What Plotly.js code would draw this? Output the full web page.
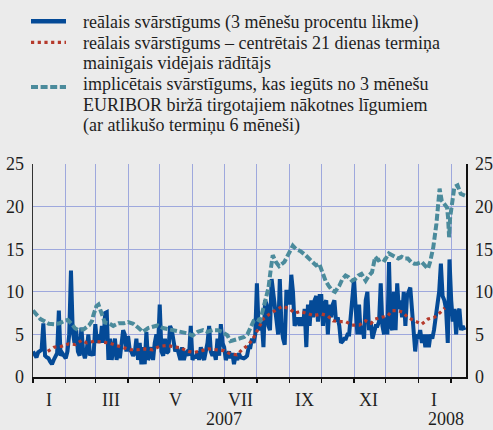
<!DOCTYPE html>
<html>
<head>
<meta charset="utf-8">
<script src="https://cdn.plot.ly/plotly-3.0.1.min.js"></script>
<style>html,body{margin:0;padding:0;background:#ebebeb;}#chart{width:493px;height:430px;}</style>
</head>
<body>
<div id="chart"></div>
<script>
// ---------- DATA ----------
// Month starts of the sampled periods (last entry = end of data)
const periodStarts = ['2007-01-01','2007-02-01','2007-03-01','2007-04-01','2007-05-01','2007-06-01',
  '2007-07-01','2007-08-01','2007-09-01','2007-10-01','2007-11-01','2007-12-01','2008-01-01','2008-02-01','2008-02-15'];

// Realised volatility (3-month interest rate), readings spread evenly within each month
const blue_2007_01 = [3.0,2.5,2.3,2.9,3.0,3.2,6.3,2.5,2.3,2.2,1.8,1.5,2.0,2.5,2.8,7.8,2.5,2.8,2.5];
const blue_2007_02 = [2.2,3.0,5.0,12.5,5.5,4.0,5.5,3.0,2.5,5.8,3.0,2.2,3.0,5.0,2.5,3.0,2.5];
const blue_2007_03 = [6.2,4.0,5.0,4.0,6.0,4.0,7.5,7.6,2.0,4.5,2.0,3.5,4.5,2.0,3.5,2.2,4.0,5.5,5.0,3.0];
const blue_2007_04 = [4.8,3.2,3.0,2.5,2.8,4.5,2.0,4.0,1.5,3.5,1.5,5.3,2.0,2.5,3.5,2.0,4.0,5.0,3.5];
const blue_2007_05 = [8.5,3.0,2.5,4.5,2.8,3.0,6.0,5.5,4.5,3.0,3.5,2.5,2.0,3.5,2.0,2.8,3.0,2.5,6.0];
const blue_2007_06 = [2.0,2.5,2.2,3.0,2.0,3.5,2.5,2.0,3.0,4.0,6.0,3.0,2.5,3.0,2.0,4.5,2.5,6.2,4.0];
const blue_2007_07 = [3.5,2.0,2.5,3.0,2.2,2.8,1.5,2.5,2.0,2.8,2.3,2.2,2.2,2.3,2.5,3.5,3.5,4.5,4.0,5.0];
const blue_2007_08 = [11.0,6.0,5.5,6.5,3.5,9.0,8.5,6.0,5.5,11.5,10.0,8.5,6.5,5.0,11.5,6.0,4.5,3.8,10.0,10.0];
const blue_2007_09 = [8.5,12.0,10.0,6.0,6.5,7.0,6.0,7.0,6.0,8.0,3.5,8.5,6.0,9.0,7.0,9.0,9.5,6.5,9.5];
const blue_2007_10 = [9.5,6.0,8.5,9.0,5.0,8.5,7.0,8.5,9.0,6.5,7.0,6.0,4.0,4.2,4.5,4.5,5.0,5.0,7.5,10.5];
const blue_2007_11 = [11.5,8.0,5.0,8.5,5.0,6.0,4.5,9.0,10.0,5.5,6.5,4.5,5.5,6.0,6.0,6.5,11.0,6.0,5.0];
const blue_2007_12 = [7.0,5.0,13.5,6.0,5.5,10.0,5.5,11.0,8.0,9.0,7.0,10.0,6.0,9.5,10.0,10.5,8.0,4.5,3.0,5.0];
const blue_2008_01 = [4.5,5.5,4.0,5.0,3.5,5.0,3.5,5.0,4.5,5.5,7.0,8.5,10.0,13.3,9.5,9.0,8.0,4.0,13.8];
const blue_2008_02 = [9.0,6.5,8.0,5.0,7.5,8.0,5.5,6.0,5.5];

// 21-day centred moving average of realised volatility
const redDates = ['2007-01-15','2007-01-21','2007-01-28','2007-02-04','2007-02-10','2007-02-16','2007-02-21','2007-02-28',
  '2007-03-07','2007-03-14','2007-03-21','2007-03-28','2007-04-03','2007-04-10','2007-04-17','2007-04-24',
  '2007-05-01','2007-05-08','2007-05-15','2007-05-21','2007-05-28','2007-06-03','2007-06-10','2007-06-16','2007-06-23',
  '2007-07-01','2007-07-07','2007-07-13','2007-07-18','2007-07-24','2007-07-28','2007-08-01','2007-08-04','2007-08-07',
  '2007-08-13','2007-08-19','2007-08-25','2007-09-01','2007-09-06','2007-09-11','2007-09-17','2007-09-24',
  '2007-10-01','2007-10-07','2007-10-12','2007-10-17','2007-10-24','2007-10-30','2007-11-06','2007-11-12','2007-11-17',
  '2007-11-21','2007-11-27','2007-12-03','2007-12-07','2007-12-12','2007-12-17','2007-12-22','2007-12-28',
  '2008-01-04','2008-01-10','2008-01-16','2008-01-21','2008-01-26'];
const redValues = [3.0,3.5,3.6,3.9,3.8,4.3,4.0,4.2,
  4.1,4.0,3.7,3.4,3.2,3.2,3.3,3.2,
  3.6,3.7,3.5,3.4,3.0,2.9,3.1,3.3,3.2,
  3.1,2.7,2.6,3.2,3.8,4.4,5.3,6.1,6.8,
  7.4,7.9,8.3,8.0,7.5,7.7,7.5,7.2,
  7.4,7.2,6.6,6.5,6.5,6.1,6.1,6.6,6.3,
  6.8,7.0,7.2,7.8,7.8,7.6,7.0,6.6,
  6.2,6.8,7.0,7.5,8.1];

// Implied volatility from 3-month EURIBOR futures (6 months to maturity)
const tealDates = ['2007-01-01','2007-01-04','2007-01-08','2007-01-11','2007-01-16','2007-01-21','2007-01-26','2007-01-31',
  '2007-02-03','2007-02-06','2007-02-10','2007-02-13','2007-02-18','2007-02-23','2007-02-26','2007-02-27',
  '2007-03-02','2007-03-04','2007-03-06','2007-03-07','2007-03-10','2007-03-14','2007-03-18','2007-03-23','2007-03-28',
  '2007-04-01','2007-04-06','2007-04-11','2007-04-15','2007-04-20','2007-04-25','2007-04-29',
  '2007-05-04','2007-05-09','2007-05-13','2007-05-18','2007-05-23','2007-05-28',
  '2007-06-01','2007-06-06','2007-06-11','2007-06-15','2007-06-20','2007-06-25','2007-06-29',
  '2007-07-04','2007-07-07','2007-07-10','2007-07-15','2007-07-20','2007-07-23','2007-07-26','2007-07-29',
  '2007-08-01','2007-08-04','2007-08-07','2007-08-09','2007-08-11','2007-08-12','2007-08-14','2007-08-16',
  '2007-08-19','2007-08-22','2007-08-27','2007-08-31',
  '2007-09-04','2007-09-07','2007-09-11','2007-09-16','2007-09-19','2007-09-23','2007-09-26','2007-09-29',
  '2007-10-02','2007-10-05','2007-10-08','2007-10-11','2007-10-14','2007-10-18','2007-10-21','2007-10-24','2007-10-27','2007-10-30',
  '2007-11-02','2007-11-05','2007-11-08','2007-11-12','2007-11-15','2007-11-18','2007-11-21','2007-11-24','2007-11-27','2007-11-30',
  '2007-12-04','2007-12-07','2007-12-10','2007-12-13','2007-12-16','2007-12-19','2007-12-22','2007-12-25','2007-12-28','2007-12-31',
  '2008-01-04','2008-01-07','2008-01-10','2008-01-12','2008-01-15','2008-01-18','2008-01-20','2008-01-21','2008-01-23',
  '2008-01-26','2008-01-28','2008-01-29','2008-01-30','2008-01-31',
  '2008-02-02','2008-02-04','2008-02-07','2008-02-10','2008-02-14'];
const tealValues = [7.8,7.4,6.8,6.6,6.25,6.2,6.3,6.6,
  6.7,6.3,5.7,5.5,5.6,6.05,6.6,7.2,
  8.3,8.5,7.8,7.2,6.4,6.3,6.0,6.3,6.3,
  6.45,6.25,5.75,5.3,5.75,5.9,6.05,
  5.75,5.6,5.5,5.3,5.15,5.1,
  4.85,5.3,5.5,5.3,5.5,5.5,5.3,
  4.9,4.2,4.3,4.5,4.7,5.0,5.8,6.6,
  6.8,6.6,8.0,9.0,9.8,10.5,12.5,14.3,
  13.5,13.0,13.5,14.5,
  15.4,15.0,14.8,14.3,13.9,13.5,13.1,13.3,
  12.3,11.3,10.7,10.2,10.0,10.7,11.5,11.9,11.7,11.3,
  11.5,11.9,12.1,11.3,11.9,12.3,14.1,13.7,13.9,13.7,
  14.5,14.3,14.1,13.9,14.1,13.9,13.9,13.5,13.3,13.3,
  13.5,13.1,12.7,13.5,15.2,18.0,20.3,22.1,20.7,
  20.3,19.9,18.75,16.4,18.75,
  20.3,22.3,22.5,21.5,21.3];

// Axis labels
const monthLabelDates = ['2007-01-16','2007-03-16','2007-05-16','2007-07-16','2007-09-15','2007-11-15','2008-01-16'];
const monthLabels = ['I','III','V','VII','IX','XI','I'];
const yearLabels = ['2007','2008'];
const yearLabelDates = ['2007-07-01'];
const legendLines = [
  ['reālais svārstīgums (3 mēnešu procentu likme)'],
  ['reālais svārstīgums – centrētais 21 dienas termiņa', 'mainīgais vidējais rādītājs'],
  ['implicētais svārstīgums, kas iegūts no 3 mēnešu', 'EURIBOR biržā tirgotajiem nākotnes līgumiem', '(ar atlikušo termiņu 6 mēneši)']
];

// ---------- STYLE ----------
const FONT = 'Liberation Serif, Times New Roman, serif';
const GRID = '#9ea8dd';
const TXT = '#1e1e1e';
const styles = [
  {color:'#044a97', width:4, dash:'solid', legendWidth:4.5},
  {color:'#b53a2c', width:3.2, dash:'3.2px,3.5px', legendWidth:3.2},
  {color:'#4b8b9c', width:4, dash:'7px,2.6px', legendWidth:4}
];

// ---------- BUILD ----------
const blueChunks = [blue_2007_01,blue_2007_02,blue_2007_03,blue_2007_04,blue_2007_05,blue_2007_06,blue_2007_07,
  blue_2007_08,blue_2007_09,blue_2007_10,blue_2007_11,blue_2007_12,blue_2008_01,blue_2008_02];
const blueX = [], blueY = [];
blueChunks.forEach((vals, k) => {
  const t0 = Date.parse(periodStarts[k]), t1 = Date.parse(periodStarts[k+1]);
  const step = (t1 - t0) / vals.length;
  vals.forEach((v, i) => {
    blueX.push(new Date(t0 + i*step).toISOString().slice(0,19).replace('T',' '));
    blueY.push(v);
  });
});

const names = legendLines.map(l => l.join(' '));
const traces = [
  {x: blueX, y: blueY, type:'scatter', mode:'lines', name: names[0],
   line:{color:styles[0].color, width:styles[0].width}},
  {x: redDates, y: redValues, type:'scatter', mode:'lines', name: names[1],
   line:{color:styles[1].color, width:styles[1].width, dash:styles[1].dash}},
  {x: tealDates, y: tealValues, type:'scatter', mode:'lines', name: names[2],
   line:{color:styles[2].color, width:styles[2].width, dash:styles[2].dash}},
  {x: [], y: [], yaxis:'y2', showlegend:false, hoverinfo:'skip'}
];

// Legend (drawn manually to match the tight line spacing); pixel offsets relative to the plot's top-left corner
const legendSymbolY = [142.7, 121.7, 77];        // px above the plot top
const legendFirstLineY = [141.3, 121, 79.7];      // px above plot top (centre of first text line)
const LINE_STEP = 20.4;
const shapes = [];
const annotations = [];
legendLines.forEach((lines, k) => {
  shapes.push({type:'line', xref:'paper', yref:'paper', xsizemode:'pixel', ysizemode:'pixel',
    xanchor:0, yanchor:1, x0:-2, x1:33, y0:legendSymbolY[k], y1:legendSymbolY[k],
    line:{color:styles[k].color, width:styles[k].legendWidth, dash:styles[k].dash}});
  lines.forEach((t, j) => {
    annotations.push({text:t, xref:'paper', yref:'paper', x:0, y:1, xshift:48,
      yshift: legendFirstLineY[k] - j*LINE_STEP, xanchor:'left', yanchor:'middle', showarrow:false,
      font:{family:FONT, size:18, color:TXT}});
  });
});
// Long ticks at year boundaries
['2007-01-01','2008-01-01'].forEach(d => shapes.push({type:'line', xref:'x', yref:'y', x0:d, x1:d,
  ysizemode:'pixel', yanchor:0, y0:0, y1:-11, line:{color:'#111', width:1.5}}));
// Month labels (centred in odd months)
monthLabels.forEach((t, i) => annotations.push({text:t, xref:'x', x:monthLabelDates[i], yref:'paper', y:0,
  yshift:-23, yanchor:'middle', xanchor:'center', showarrow:false, font:{family:FONT, size:18, color:TXT}}));
// Year labels
annotations.push({text: yearLabels[0], xref:'x', x:yearLabelDates[0], yref:'paper', y:0, yshift:-42.3,
  yanchor:'middle', xanchor:'center', showarrow:false, font:{family:FONT, size:18, color:TXT}});
annotations.push({text: yearLabels[1], xref:'paper', x:1, yref:'paper', y:0, yshift:-42.3,
  yanchor:'middle', xanchor:'right', showarrow:false, font:{family:FONT, size:18, color:TXT}});

const range = ['2007-01-01','2008-02-15'];
const layout = {
  width: 493, height: 430,
  margin: {l:33, r:27, t:164, b:53, pad:0},
  paper_bgcolor:'#ebebeb', plot_bgcolor:'#ebebeb',
  font: {family: FONT, size: 18, color:TXT},
  showlegend: false,
  xaxis: {type:'date', range: range, tickmode:'linear', tick0:'2007-01-01', dtick:'M1',
    ticks:'outside', ticklen:4, tickwidth:1.5, tickcolor:'#111',
    showticklabels:false, showgrid:true, gridcolor:GRID, gridwidth:1,
    showline:true, linecolor:'#111', linewidth:2, zeroline:false, fixedrange:true},
  yaxis: {range:[0,25], dtick:5, tick0:0, showgrid:true, gridcolor:GRID, gridwidth:1,
    showline:true, linecolor:'#333', linewidth:1.5, ticks:'', zeroline:false,
    tickfont:{family:FONT, size:18, color:TXT}, ticklabelstandoff:4},
  yaxis2: {range:[0,25], dtick:5, tick0:0, overlaying:'y', side:'right', anchor:'x',
    showgrid:false, showline:true, linecolor:'#111', linewidth:1.5, ticks:'', zeroline:false,
    tickfont:{family:FONT, size:18, color:TXT}, ticklabelstandoff:4},
  shapes: shapes,
  annotations: annotations
};

Plotly.newPlot('chart', traces, layout, {staticPlot:true, displayModeBar:false});
</script>
</body>
</html>
